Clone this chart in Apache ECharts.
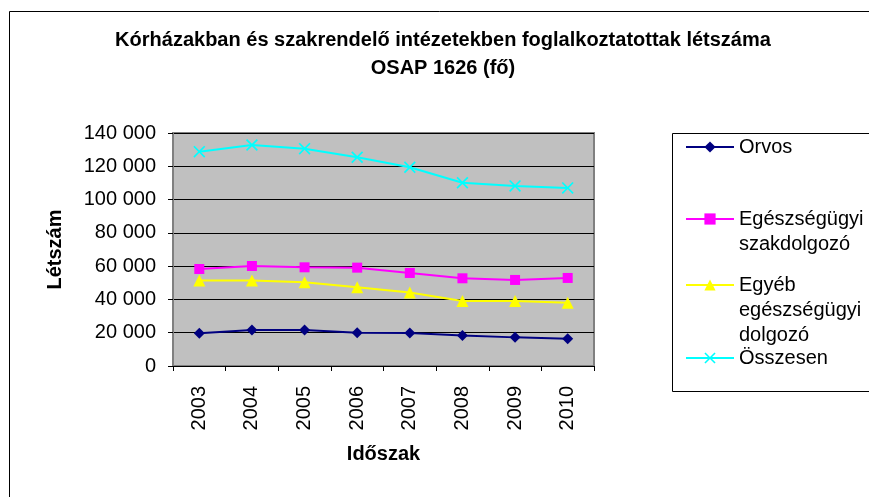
<!DOCTYPE html>
<html>
<head>
<meta charset="utf-8">
<script src="https://cdn.jsdelivr.net/npm/echarts@6/dist/echarts.min.js"></script>
<style>
html,body{margin:0;padding:0;background:#fff;}
#c{width:869px;height:497px;}
</style>
</head>
<body>
<div id="c"></div>
<script>
const years = ['2003','2004','2005','2006','2007','2008','2009','2010'];
const orvos = [19700, 21600, 21600, 20000, 19800, 18400, 17200, 16400];
const egeszsegugyi = [58300, 60100, 59300, 59100, 55900, 52700, 51700, 52900];
const egyeb = [51300, 51300, 50300, 47300, 44100, 39100, 39000, 38000];
const osszesen = [128800, 132800, 130600, 125400, 119400, 110100, 108200, 107000];
const yTicks = [0, 20000, 40000, 60000, 80000, 100000, 120000, 140000];

const FONT = '"Liberation Sans", Arial, sans-serif';
const fmt = v => String(v).replace(/\B(?=(\d{3})+(?!\d))/g, ' ');
const xSym = 'path://M0,1 L1,0 L5,4 L9,0 L10,1 L6,5 L10,9 L9,10 L5,6 L1,10 L0,9 L4,5 Z';

const seriesDefs = [
  {name: 'Orvos', data: orvos, color: '#000080', symbol: 'diamond', size: 11, lines: 1, top: 134.5},
  {name: 'Egészségügyi\nszakdolgozó', data: egeszsegugyi, color: '#FF00FF', symbol: 'rect', size: 10, lines: 2, top: 181.5},
  {name: 'Egyéb\negészségügyi\ndolgozó', data: egyeb, color: '#FFFF00', symbol: 'triangle', size: 12, lines: 3, top: 222.5},
  {name: 'Összesen', data: osszesen, color: '#00FFFF', symbol: xSym, size: 12, lines: 1, top: 345.5}
];

const chart = echarts.init(document.getElementById('c'), null, {renderer: 'canvas'});
chart.setOption({
  animation: false,
  backgroundColor: '#fff',
  textStyle: {fontFamily: FONT},
  title: {
    text: 'Kórházakban és szakrendelő intézetekben foglalkoztatottak létszáma\nOSAP 1626 (fő)',
    left: 443, top: 26, textAlign: 'center', padding: 0,
    textStyle: {fontFamily: FONT, fontSize: 20, fontWeight: 'bold', color: '#000', lineHeight: 28}
  },
  graphic: [
    {type: 'rect', shape: {x: 9.5, y: 11.5, width: 900, height: 600}, style: {fill: 'none', stroke: '#000', lineWidth: 1}, z: -10},
    {type: 'rect', shape: {x: 672.5, y: 133.5, width: 250, height: 258}, style: {fill: '#fff', stroke: '#000', lineWidth: 1}, z: -5}
  ],
  legend: seriesDefs.map(s => ({
    data: [s.name],
    left: 685, top: s.top,
    padding: 0,
    orient: 'vertical',
    itemWidth: 48, itemHeight: 14,
    selectedMode: false,
    formatter: name => '\n'.repeat(s.lines - 1) + name,
    textStyle: {fontFamily: FONT, fontSize: 20, color: '#000', lineHeight: 25}
  })),
  grid: {left: 173, top: 133, width: 421, height: 233, show: true, backgroundColor: '#C0C0C0', borderColor: '#808080', borderWidth: 2},
  xAxis: {
    type: 'category', data: years, boundaryGap: true,
    name: 'Időszak', nameLocation: 'middle', nameGap: 78,
    nameTextStyle: {fontFamily: FONT, fontSize: 20, fontWeight: 'bold', color: '#000'},
    axisLine: {lineStyle: {color: '#000', width: 1}},
    axisTick: {show: true, alignWithLabel: false, length: 5, lineStyle: {color: '#000'}},
    axisLabel: {rotate: 90, fontFamily: FONT, fontSize: 20, color: '#000', margin: 20}
  },
  yAxis: {
    type: 'value', min: 0, max: 140000, interval: 20000,
    name: 'Létszám', nameLocation: 'middle', nameGap: 108, nameRotate: 90,
    nameTextStyle: {fontFamily: FONT, fontSize: 20, fontWeight: 'bold', color: '#000'},
    axisLine: {show: true, lineStyle: {color: '#808080', width: 2}},
    axisTick: {show: true, length: 5, lineStyle: {color: '#000'}},
    axisLabel: {fontFamily: FONT, fontSize: 20, color: '#000', margin: 17, formatter: v => yTicks.includes(v) ? fmt(v) : ''},
    splitLine: {show: true, lineStyle: {color: '#000', width: 1}}
  },
  series: seriesDefs.map(s => ({
    type: 'line', name: s.name, data: s.data,
    symbol: s.symbol, symbolSize: s.size, showSymbol: true,
    lineStyle: {color: s.color, width: 2},
    itemStyle: {color: s.color, borderWidth: 0},
    emphasis: {disabled: true}
  }))
});
</script>
</body>
</html>
